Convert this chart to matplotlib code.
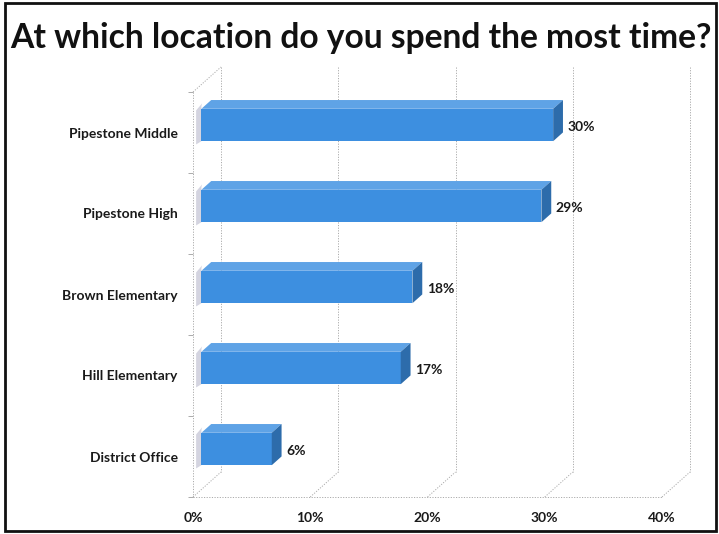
import matplotlib
matplotlib.use("Agg")
import matplotlib.pyplot as plt
from matplotlib.patches import Polygon, Rectangle

categories = ["Pipestone Middle", "Pipestone High", "Brown Elementary", "Hill Elementary", "District Office"]
values = [30, 29, 18, 17, 6]
xticks = [0, 10, 20, 30, 40]
xtick_labels = ["0%", "10%", "20%", "30%", "40%"]
title = "At which location do you spend the most time?"

plt.rcParams['font.family'] = ['Lato', 'DejaVu Sans']

W, H = 719, 534
fig = plt.figure(figsize=(W / 100, H / 100), dpi=100)
ax = fig.add_axes([193 / W, (H - 497) / H, (662 - 193) / W, (497 - 92) / H])
ax.set_xlim(0, 40)
ax.set_ylim(4.5, -0.5)
for s in ax.spines.values():
    s.set_visible(False)

# 3D depth offsets (data units)
dx, dy = 2.39, 0.309
d0, d1 = 0.30, 0.65
h = 0.2

grid_kw = dict(color="#ababab", lw=0.7, ls=(0, (1.2, 1.5)), clip_on=False, zorder=1)
# back wall verticals + floor diagonals
for t in xticks:
    ax.plot([t + dx, t + dx], [-0.5 - dy, 4.5 - dy], **grid_kw)
    ax.plot([t, t + dx], [4.5, 4.5 - dy], **grid_kw)
# front left axis and bottom axis
ax.plot([0, 0], [-0.5, 4.5], **grid_kw)
ax.plot([0, 40], [4.5, 4.5], **grid_kw)
ax.plot([0, dx], [-0.5, -0.5 - dy], **grid_kw)

front_c = "#3d8fe0"
top_c = "#5fa3e6"
side_c = "#2d6cab"
for i, v in enumerate(values):
    yc = i - d0 * dy
    top_f = yc - h
    bot_f = yc + h
    x0 = d0 * dx
    sh_x = (d1 - d0) * dx
    sh_y = (d1 - d0) * dy
    # faint left end
    ax.add_patch(Polygon([(x0 - 0.45, top_f + 0.02), (x0 - 0.45 + sh_x * 0.6, top_f - sh_y * 0.6),
                          (x0, top_f - sh_y * 0.3), (x0, bot_f), (x0 - 0.45, bot_f + 0.04)],
                         closed=True, fc="#d4d4e0", ec="none", clip_on=False, zorder=2))
    ax.barh(yc, v, left=x0, height=2 * h, color=front_c, edgecolor="none", zorder=3, clip_on=False)
    ax.add_patch(Polygon([(x0, top_f), (x0 + v, top_f), (x0 + v + sh_x, top_f - sh_y), (x0 + sh_x, top_f - sh_y)],
                         closed=True, fc=top_c, ec="none", clip_on=False, zorder=3))
    ax.add_patch(Polygon([(x0 + v, top_f), (x0 + v + sh_x, top_f - sh_y), (x0 + v + sh_x, bot_f - sh_y), (x0 + v, bot_f)],
                         closed=True, fc=side_c, ec="none", clip_on=False, zorder=3))
    ax.text(x0 + v + sh_x + 0.4, yc + 0.03, f"{v}%", ha="left", va="center", fontsize=10,
            fontweight="bold", color="#1a1a1a", zorder=4)

ax.set_xticks(xticks)
ax.set_xticklabels(xtick_labels, fontsize=10, fontweight="bold", color="#1a1a1a")
ax.tick_params(axis="x", length=0, pad=11)
ax.set_yticks(range(len(categories)))
ax.set_yticklabels(categories, fontsize=10, fontweight="bold", color="#1a1a1a")
ax.tick_params(axis="y", which="major", length=0, pad=11)
ax.set_yticks([-0.5, 0.5, 1.5, 2.5, 3.5, 4.5], minor=True)
ax.tick_params(axis="y", which="minor", length=3.5, color="#ababab", width=0.7)

fig.text(361 / W, 1 - 38 / H, title, ha="center", va="center", fontsize=24.2, fontweight="bold", color="#111111")

fig.add_artist(Rectangle((5 / W, 3 / H), 711 / W, 528 / H, transform=fig.transFigure,
                         fill=False, ec="#111111", lw=2))

fig.savefig("out.png", dpi=100)
